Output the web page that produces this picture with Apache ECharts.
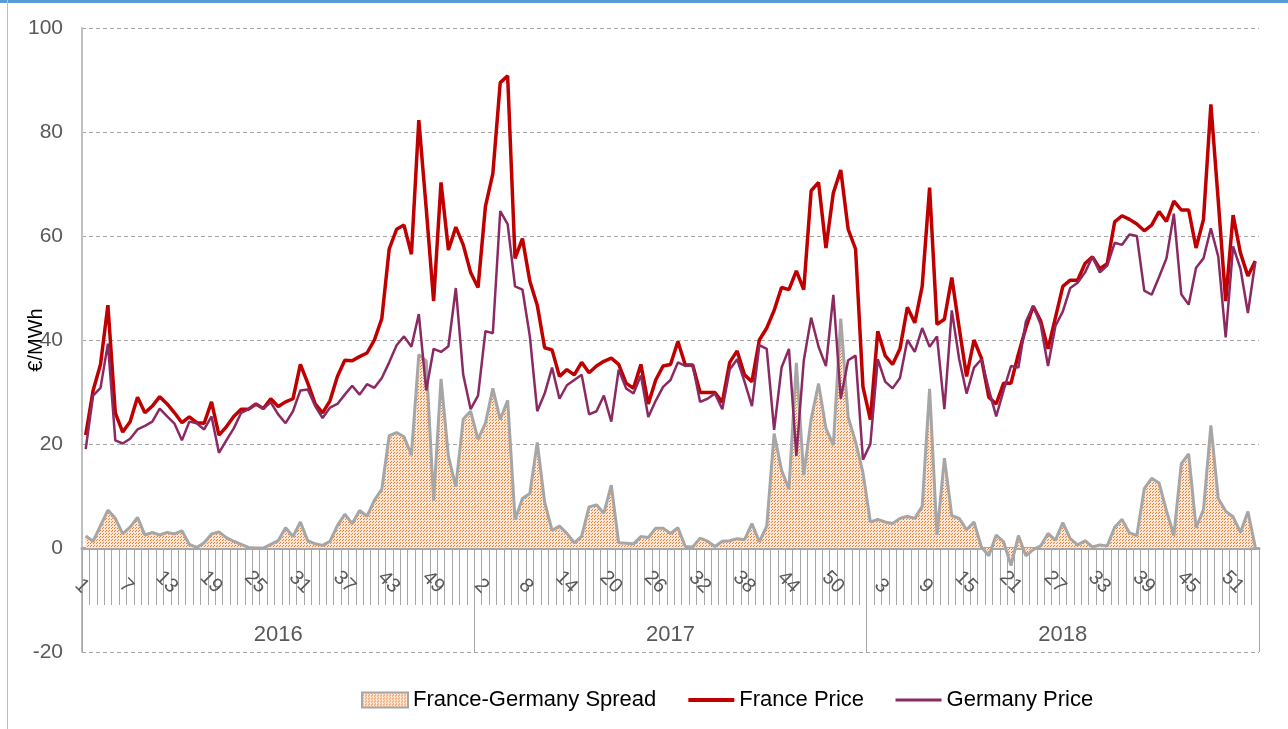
<!DOCTYPE html>
<html>
<head>
<meta charset="utf-8">
<script src="https://cdn.jsdelivr.net/npm/echarts@6/dist/echarts.min.js"></script>
<style>
  html, body { margin: 0; padding: 0; background: #fff; }
  #wrap { position: relative; width: 1288px; height: 729px; overflow: hidden; }
  #chart { width: 1288px; height: 729px; }
  #topbar { position: absolute; left: 0; top: 0; width: 1288px; height: 3px; background: #5b9bd5; }
  #leftbar { position: absolute; left: 7px; top: 0; width: 1px; height: 729px; background: #bfbfbf; }
</style>
</head>
<body>
<div id="wrap">
  <div id="chart"></div>
  <div id="topbar"></div>
  <div id="leftbar"></div>
</div>
<script>
var years = ['2016', '2017', '2018'];
var weeksPerYear = 53;

// weekly prices, EUR/MWh, 53 points per year
var france = [
  21.7, 30.3, 35.3, 46.7, 26, 22.3, 24.3, 29, 26, 27.3, 29.1, 27.7, 26, 24.1, 25.2, 24.1, 24, 28.1, 21.7, 23.3, 25.3, 26.7, 26.7,
  27.7, 26.8, 28.7, 27.2, 28.1, 28.7, 35.3, 31.7, 27.7, 26, 28.3, 33, 36.1, 36, 36.8, 37.5, 40, 44.1, 57.5, 61.3, 62.1, 56.5,
  82.3, 65.3, 47.5, 70.3, 57.3, 61.7, 58.3, 53, 50.1, 65.7, 72, 89.5, 90.8, 55.7, 59.5, 51.3, 46.7, 38.5, 38.1, 33, 34.3, 33.3, 35.7,
  33.7, 35, 35.9, 36.5, 35.3, 31.7, 30.7, 35.3, 27.7, 32.3, 35, 35.3, 39.7, 35.2, 35.2, 29.9, 29.9, 29.9, 28, 35.7, 37.9, 33.3, 32,
  40, 42.3, 45.7, 50.1, 49.7, 53.3, 49.7, 68.7, 70.3, 57.7, 68.3, 72.7, 61.3, 57.5, 31, 24.7, 41.7, 37, 35.3, 38.3, 46.3, 43.3,
  50.3, 69.3, 43, 44, 52, 42.3, 33, 40, 36.5, 29, 27.7, 31.7, 31.7, 37.3, 42.3, 46.5, 43.7, 38.3, 44.3, 50.3, 51.5, 51.5, 54.7,
  56, 53.7, 54.7, 62.7, 63.9, 63.2, 62.3, 61, 62.1, 64.7, 62.8, 66.7, 65, 65, 57.7, 63.2, 85.3, 66.7, 47.5, 64, 56.7, 52.3, 55.2
];
var germany = [
  19, 29.3, 30.8, 39.3, 20.7, 20.1, 21, 22.8, 23.5, 24.3, 26.8, 25.3, 23.9, 20.7, 24.3, 24, 22.8, 25.3, 18.3, 20.7, 23, 26, 26.7,
  27.7, 26.8, 28, 25.7, 24, 26.3, 30.3, 30.5, 27.3, 25, 27, 27.7, 29.5, 31.2, 29.5, 31.5, 30.8, 32.7, 35.7, 39, 40.7, 38.7,
  45, 30.3, 38.3, 37.7, 38.8, 50, 33.3, 26.7, 29.3, 41.7, 41.3, 64.8, 62.3, 50.3, 49.7, 40.7, 26.3, 29.7, 34.7, 28.7, 31.3, 32.3, 33.3,
  25.7, 26.3, 29.3, 24.3, 34.3, 30.7, 29.7, 33.2, 25.2, 28.3, 31, 32.3, 35.7, 35, 35.2, 28.1, 28.7, 29.7, 26.7, 34.3, 36.3, 32, 27.3,
  39, 38.3, 22.7, 34.7, 38.3, 17.7, 36, 44.3, 38.7, 35, 48.7, 28.7, 36.1, 37, 17, 20, 36.3, 32, 30.7, 32.7, 40, 37.7,
  42.3, 38.7, 40.7, 26.7, 45.7, 36.3, 29.7, 34.7, 36.3, 30.5, 25.3, 30.3, 35, 34.7, 43.5, 46.6, 43, 35, 42.7, 45.5, 50, 51, 53,
  56, 53, 54.3, 58.7, 58.3, 60.3, 60, 49.5, 48.7, 52.1, 55.7, 64.3, 48.8, 46.8, 53.9, 55.7, 61.5, 56, 40.5, 58, 53.7, 45.2, 55
];
var spread = [
  2.3, 1.3, 4.3, 7.3, 5.7, 2.7, 4, 5.9, 2.5, 3, 2.5, 3, 2.7, 3.3, 0.7, 0.1, 1, 2.7, 3.1, 2, 1.3, 0.7, 0.1,
  0, 0, 0.7, 1.4, 3.9, 2.2, 5, 1.4, 0.8, 0.5, 1.3, 4.3, 6.5, 4.7, 7.2, 6.1, 9.2, 11.3, 21.6, 22.2, 21.4, 17.9,
  37.2, 36, 9.1, 32.5, 17.6, 11.8, 24.8, 26.3, 20.9, 24, 30.7, 24.7, 28.4, 5.5, 9.5, 10.5, 20.3, 8.8, 3.4, 4.2, 2.8, 1, 2.3,
  7.9, 8.3, 6.7, 12.1, 1, 0.9, 0.8, 2.2, 2, 3.8, 3.8, 2.8, 3.9, 0.3, 0.2, 1.9, 1.3, 0.3, 1.3, 1.4, 1.8, 1.6, 4.7,
  1.2, 4.2, 22, 15, 11.3, 35.6, 14, 24.8, 31.6, 23, 19.8, 44.1, 25.2, 20.4, 14.5, 5, 5.5, 5, 4.7, 5.7, 6.1, 5.7,
  8, 30.6, 2.5, 17.3, 6.2, 5.7, 3.5, 5, 0.2, -1.5, 2.5, 1.2, -3.4, 2.4, -1.5, -0.3, 0.4, 2.8, 1.5, 4.9, 1.8, 0.6, 1.4,
  0.2, 0.6, 0.4, 4, 5.5, 2.9, 2.4, 11.4, 13.4, 12.5, 7.2, 2.4, 16.2, 18.1, 3.9, 7.4, 23.6, 9.5, 7.1, 6, 3, 7, 0.2
];

var weekCats = [];
years.forEach(function (y) {
  for (var w = 1; w <= weeksPerYear; w++) weekCats.push(y + '|' + w);
});

// orange dotted fill like the Excel pattern
var pat = document.createElement('canvas');
pat.width = 3; pat.height = 3;
var pc = pat.getContext('2d');
pc.fillStyle = '#fde6d3';
pc.fillRect(0, 0, 3, 3);
pc.fillStyle = '#ee7d32';
pc.fillRect(0, 0, 1, 1);
pc.fillRect(1, 2, 1, 1);
var dotFill = { image: pat, repeat: 'repeat' };

var font = 'Liberation Sans, Arial, sans-serif';
var grey = '#595959';

var myChart = echarts.init(document.getElementById('chart'));
option = {
  animation: false,
  grid: { left: 82, right: 29, top: 28, bottom: 77 },
  legend: {
    left: 356,
    top: 684,
    itemWidth: 46,
    itemHeight: 15,
    itemGap: 30,
    textStyle: { color: '#000', fontSize: 22, fontFamily: font },
    data: [
      { name: 'France-Germany Spread', icon: 'rect',
        itemStyle: { color: dotFill, borderColor: '#a6a6a6', borderWidth: 2 } },
      { name: 'France Price', itemStyle: { opacity: 0 }, lineStyle: { width: 4 } },
      { name: 'Germany Price', itemStyle: { opacity: 0 }, lineStyle: { width: 3 } }
    ]
  },
  xAxis: [
    {
      // week axis sitting on the zero line (grid top 28 + 520px)
      type: 'category',
      data: weekCats,
      position: 'top',
      offset: -520,
      boundaryGap: true,
      axisLine: { onZero: false, lineStyle: { color: '#a6a6a6', width: 3 } },
      axisTick: { show: true, inside: true, interval: 0, length: 57, lineStyle: { color: '#a6a6a6', width: 1 } },
      axisLabel: {
        inside: true, interval: 5, rotate: 45, align: 'right', verticalAlign: 'middle',
        margin: 42, color: grey, fontSize: 20, fontFamily: font,
        formatter: function (v) { return v.split('|')[1]; }
      },
      splitLine: { show: false }
    },
    {
      // year band on the -20 line, ticks reaching up to 0
      type: 'category',
      data: years,
      position: 'top',
      offset: -624,
      boundaryGap: true,
      axisLine: { show: false, onZero: false },
      axisTick: { show: true, inside: false, length: 104, interval: 0, lineStyle: { color: '#a6a6a6', width: 1 } },
      axisLabel: { inside: false, margin: 6, color: grey, fontSize: 22, fontFamily: font },
      splitLine: { show: false }
    }
  ],
  yAxis: {
    type: 'value',
    min: -20,
    max: 100,
    interval: 20,
    name: '€/MWh',
    nameLocation: 'middle',
    nameGap: 36,
    nameMoveOverlap: false,
    nameTextStyle: { color: '#000', fontSize: 20, fontFamily: font },
    axisLine: { show: true, onZero: false, lineStyle: { color: '#bfbfbf', width: 2 } },
    axisTick: { show: false },
    axisLabel: { color: grey, fontSize: 21, fontFamily: font, margin: 19 },
    splitLine: { lineStyle: { color: '#a6a6a6', type: [4, 3], width: 1 } }
  },
  series: [
    {
      name: 'France-Germany Spread',
      type: 'line',
      data: spread,
      symbol: 'none',
      color: '#a6a6a6',
      lineStyle: { color: '#a6a6a6', width: 3 },
      areaStyle: { color: dotFill, opacity: 1 },
      z: 1
    },
    {
      name: 'France Price',
      type: 'line',
      data: france,
      symbol: 'none',
      color: '#c00000',
      lineStyle: { color: '#c00000', width: 3.5 },
      z: 3
    },
    {
      name: 'Germany Price',
      type: 'line',
      data: germany,
      symbol: 'none',
      color: '#8b2a62',
      lineStyle: { color: '#8b2a62', width: 2.5 },
      z: 4
    }
  ]
};
myChart.setOption(option);
</script>
</body>
</html>
